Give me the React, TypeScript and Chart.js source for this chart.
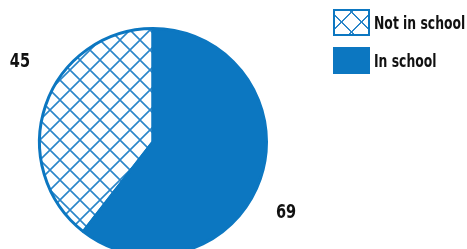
import React, { useEffect, useRef } from "react";
import { Chart, registerables } from "chart.js";
Chart.register(...registerables);

const labels = ["Not in school", "In school"];
const values = [45, 69];

const BLUE = "#0c77c1";
const HATCH = "#2b86c9";
const FONT = "'DejaVu Sans Condensed', 'DejaVu Sans', sans-serif";

function makeHatch(): CanvasPattern | string {
  const s = 20;
  const c = document.createElement("canvas");
  c.width = s;
  c.height = s;
  const g = c.getContext("2d");
  if (!g) return BLUE;
  g.fillStyle = "#ffffff";
  g.fillRect(0, 0, s, s);
  g.strokeStyle = HATCH;
  g.lineWidth = 1.6;
  g.beginPath();
  for (let k = -1; k <= 1; k++) {
    g.moveTo(k * s, 0);
    g.lineTo(k * s + s, s);
    g.moveTo(k * s + s, 0);
    g.lineTo(k * s, s);
  }
  g.stroke();
  return g.createPattern(c, "repeat") || BLUE;
}

const labelPlugin = {
  id: "outLabels",
  afterDatasetsDraw(chart: any) {
    const meta = chart.getDatasetMeta(0);
    const ctx = chart.ctx;
    meta.data.forEach((arc: any, i: number) => {
      const p = arc.getProps(["x", "y", "startAngle", "endAngle", "outerRadius"], true);
      const mid = (p.startAngle + p.endAngle) / 2;
      const tx = p.x + Math.cos(mid) * p.outerRadius * 1.24;
      const ty = p.y + Math.sin(mid) * p.outerRadius * 2.05 - 4;
      ctx.save();
      ctx.font = `bold condensed 19px ${FONT}`;
      try {
        (ctx as any).fontStretch = "condensed";
      } catch (e) {}
      ctx.fillStyle = "#111111";
      ctx.textAlign = "center";
      ctx.textBaseline = "middle";
      ctx.translate(tx, ty);
      ctx.scale(0.85, 1);
      ctx.fillText(String(values[i]), 0, 0);
      ctx.restore();
    });
  },
};

export default function App() {
  const ref = useRef<HTMLCanvasElement | null>(null);
  useEffect(() => {
    if (!ref.current) return;
    const total = values.reduce((a, b) => a + b, 0);
    const chart = new Chart(ref.current, {
      type: "pie",
      data: {
        labels,
        datasets: [
          {
            data: values,
            backgroundColor: [makeHatch() as any, BLUE],
            borderColor: BLUE,
            borderWidth: 3,
          },
        ],
      },
      options: {
        responsive: false,
        animation: false,
        devicePixelRatio: 1,
        events: [],
        rotation: -(values[0] / total) * 360,
        layout: { padding: { left: 38, right: 199, top: 27, bottom: 43 } },
        plugins: { legend: { display: false }, tooltip: { enabled: false } },
      },
      plugins: [labelPlugin],
    });
    return () => chart.destroy();
  }, []);

  const hatchCss =
    `repeating-linear-gradient(45deg, transparent 0px, transparent 12.6px, ${HATCH} 12.6px, ${HATCH} 14.1px),` +
    `repeating-linear-gradient(-45deg, transparent 0px, transparent 12.6px, ${HATCH} 12.6px, ${HATCH} 14.1px), #ffffff`;

  const item = (i: number, top: number) => (
    <div
      key={i}
      style={{ position: "absolute", left: 333, top, display: "flex", alignItems: "center", height: 27 }}
    >
      <div
        style={{
          width: 37,
          height: 27,
          boxSizing: "border-box",
          border: `2px solid ${BLUE}`,
          background: i === 0 ? hatchCss : BLUE,
          flex: "none",
        }}
      />
      <span
        style={{
          marginLeft: 4,
          fontFamily: FONT,
          fontWeight: "bold",
          fontSize: 17,
          fontStretch: "condensed",
          color: "#111111",
          whiteSpace: "nowrap",
          display: "inline-block",
          transform: "scaleX(0.81)",
          transformOrigin: "left center",
        }}
      >
        {labels[i]}
      </span>
    </div>
  );

  return (
    <div style={{ position: "absolute", left: 0, top: 0, width: 467, height: 249, overflow: "hidden", background: "#fff" }}>
      <canvas ref={ref} width={467} height={300} style={{ position: "absolute", left: 0, top: 0 }} />
      {item(0, 9)}
      {item(1, 47)}
    </div>
  );
}
